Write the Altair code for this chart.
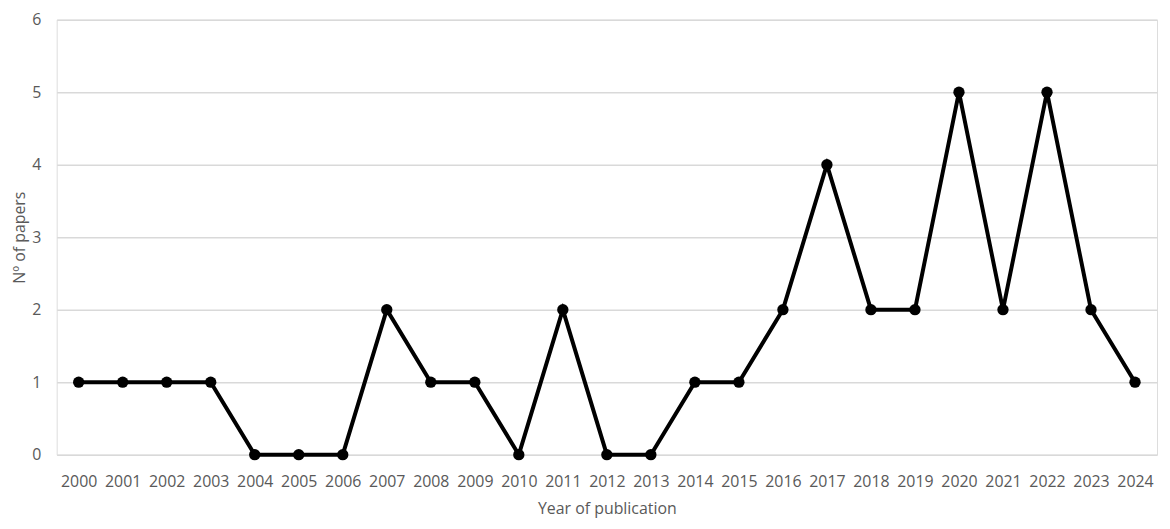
import altair as alt
import pandas as pd

years = [str(y) for y in range(2000, 2025)]
papers = [1, 1, 1, 1, 0, 0, 0, 2, 1, 1, 0, 2, 0, 0, 1, 1, 2, 4, 2, 2, 5, 2, 5, 2, 1]

df = pd.DataFrame({"year": years, "papers": papers})

FONT = "Open Sans"
GRAY = "#595959"

x = alt.X("year:O", sort=years,
          scale=alt.Scale(paddingInner=1, paddingOuter=0.5),
          axis=alt.Axis(title="Year of publication", labelAngle=0, labelPadding=19,
                        ticks=False, domain=False, grid=False,
                        titleY=54, titleBaseline="middle"))
y = alt.Y("papers:Q", scale=alt.Scale(domain=[0, 6]),
          axis=alt.Axis(title="Nº of papers", values=[0, 1, 2, 3, 4, 5, 6],
                        labelPadding=16, ticks=False, domain=False,
                        gridColor="#d9d9d9", gridWidth=1.5,
                        titleX=-37, titleY=219, titleBaseline="middle",
                        titleAlign="center", titleAngle=-90))

base = alt.Chart(df)
line = base.mark_line(color="black", strokeWidth=4).encode(x=x, y=y)
pts = base.mark_point(filled=True, color="black", size=130, opacity=1).encode(x=x, y=y)

chart = (line + pts).properties(
    width=1108, height=438,
    autosize=alt.AutoSizeParams(type="none"),
    padding={"left": 49, "top": 10, "right": 5, "bottom": 64},
).configure_view(stroke=None).configure(background="white").configure_axis(
    labelFont=FONT, labelFontSize=16, labelColor=GRAY,
    titleFont=FONT, titleFontSize=16, titleColor=GRAY, titleFontWeight="normal",
)

chart.save("out.html", embed_options={"renderer": "svg", "actions": False})
